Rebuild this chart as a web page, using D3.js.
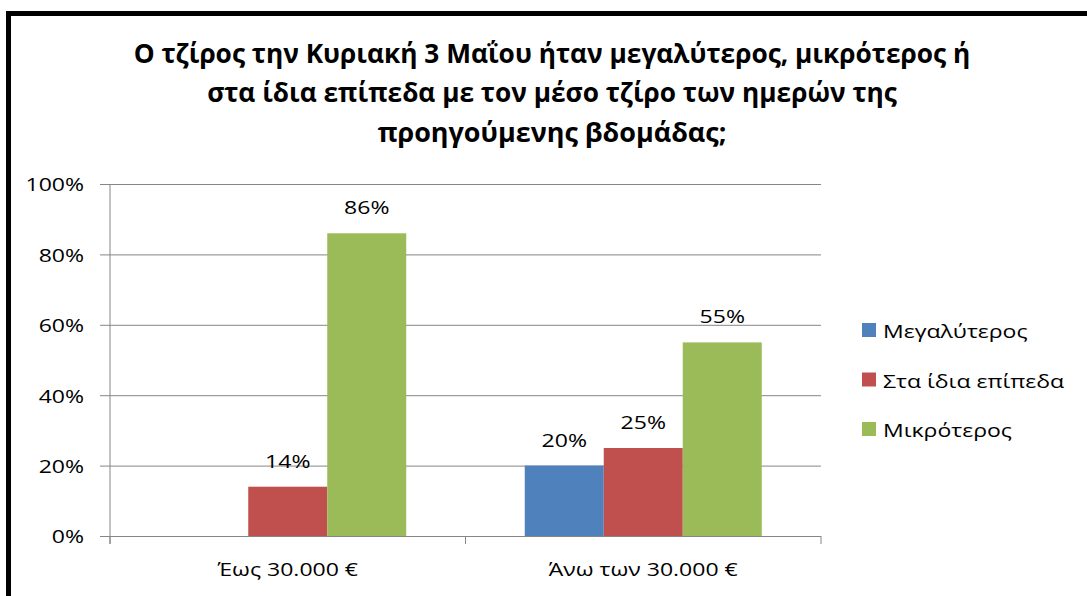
<!DOCTYPE html>
<html>
<head>
<meta charset="utf-8">
<script src="https://cdn.jsdelivr.net/npm/d3@7"></script>
<style>
    body { margin: 0; background: #fff; }
    text { font-family: "Open Sans", sans-serif; fill: #000; }
</style>
</head>
<body>
<svg id="chart" width="1087" height="596"></svg>
<script>
// values
const categories = ["Έως 30.000 €", "Άνω των 30.000 €"];
const seriesNames = ["Μεγαλύτερος", "Στα ίδια επίπεδα", "Μικρότερος"];
const seriesColors = ["#4F81BD", "#C0504D", "#9BBB59"];
const megalyteros = [null, 0.20];
const staIdia = [0.14, 0.25];
const mikroteros = [0.86, 0.55];
const yTicks = [0, 0.2, 0.4, 0.6, 0.8, 1];
const titleLines = [
    "Ο τζίρος την Κυριακή 3 Μαΐου ήταν μεγαλύτερος, μικρότερος ή",
    "στα ίδια επίπεδα με τον μέσο τζίρο των ημερών της",
    "προηγούμενης βδομάδας;"
];

const seriesValues = [megalyteros, staIdia, mikroteros];

const svg = d3.select("#chart");
const stretch = 1.28;   // the picture's text is wider than the font

const plot = { left: 110, right: 821, top: 184, bottom: 536 };
const gridColor = "#868686";

// outer frame, only left and top edges fall inside the picture
svg.append("rect")
    .attr("x", 8.5)
    .attr("y", 13.5)
    .attr("width", 1200)
    .attr("height", 700)
    .attr("fill", "none")
    .attr("stroke", "#000")
    .attr("stroke-width", 5);

// title
const titleWidths = [837, 690, 349];
const titleBase = [63, 102, 142];
titleLines.forEach((line, i) => {
    let t = svg.append("text")
        .attr("x", 552)
        .attr("y", titleBase[i])
        .attr("text-anchor", "middle")
        .attr("font-weight", "bold")
        .attr("font-size", 22)
        .text(line);
    let len = t.node().getComputedTextLength();
    t.attr("font-size", 22 * titleWidths[i] / len);
});

const x0 = d3.scaleBand()
    .domain(categories)
    .range([plot.left, plot.right]);

const x1 = d3.scaleBand()
    .domain(seriesNames)
    .range([0, x0.bandwidth()])
    .paddingOuter(0.75);

const y = d3.scaleLinear()
    .domain([0, 1])
    .range([plot.bottom, plot.top]);

// gridlines + y axis
const yAxis = d3.axisLeft(y)
    .tickValues(yTicks)
    .tickSize(-(plot.right - plot.left))
    .tickFormat(d3.format(".0%"));

const yg = svg.append("g")
    .attr("transform", "translate(" + plot.left + ",0)")
    .call(yAxis);

yg.select(".domain").remove();
yg.selectAll(".tick line")
    .attr("x1", -10)
    .attr("stroke", gridColor)
    .attr("stroke-width", 1);
yg.selectAll(".tick text")
    .attr("x", 0)
    .attr("dy", null)
    .attr("dominant-baseline", "central")
    .attr("font-size", 18)
    .attr("text-anchor", "end")
    .attr("transform", "translate(-26,0) scale(" + stretch + ",1)");

// vertical axis line
svg.append("line")
    .attr("x1", plot.left).attr("x2", plot.left)
    .attr("y1", plot.top).attr("y2", plot.bottom + 8)
    .attr("stroke", gridColor);

// category ticks below the base line
const catEdges = categories.map(c => x0(c)).concat([plot.right]);
svg.selectAll("line.catTick")
    .data(catEdges)
    .enter()
    .append("line")
    .attr("class", "catTick")
    .attr("x1", d => d).attr("x2", d => d)
    .attr("y1", plot.bottom).attr("y2", plot.bottom + 8)
    .attr("stroke", gridColor);

// bars
const groups = svg.selectAll("g.cat")
    .data(categories)
    .enter()
    .append("g")
    .attr("class", "cat")
    .attr("transform", d => "translate(" + x0(d) + ",0)");

groups.each(function (cat, ci) {
    let g = d3.select(this);
    seriesNames.forEach((name, si) => {
        let v = seriesValues[si][ci];
        if (v == null) return;
        g.append("rect")
            .attr("x", x1(name))
            .attr("y", y(v))
            .attr("width", x1.bandwidth())
            .attr("height", y(0) - y(v))
            .attr("fill", seriesColors[si]);

        g.append("text")
            .attr("text-anchor", "middle")
            .attr("font-size", 18)
            .attr("transform", "translate(" + (x1(name) + x1.bandwidth() / 2) + "," + (y(v) - 19) + ") scale(" + stretch + ",1)")
            .text(d3.format(".0%")(v));
    });
});

// category labels
svg.selectAll("text.catLabel")
    .data(categories)
    .enter()
    .append("text")
    .attr("class", "catLabel")
    .attr("text-anchor", "middle")
    .attr("font-size", 18)
    .attr("transform", d => "translate(" + (x0(d) + x0.bandwidth() / 2) + ",576) scale(" + stretch + ",1)")
    .text(d => d);

// legend
const legend = svg.append("g")
    .attr("transform", "translate(862,323)");

seriesNames.forEach((name, i) => {
    legend.append("rect")
        .attr("x", 0)
        .attr("y", i * 49.5)
        .attr("width", 14)
        .attr("height", 14)
        .attr("fill", seriesColors[i]);

    legend.append("text")
        .attr("font-size", 18)
        .attr("transform", "translate(21," + (i * 49.5 + 15) + ") scale(" + stretch + ",1)")
        .text(name);
});
</script>
</body>
</html>
